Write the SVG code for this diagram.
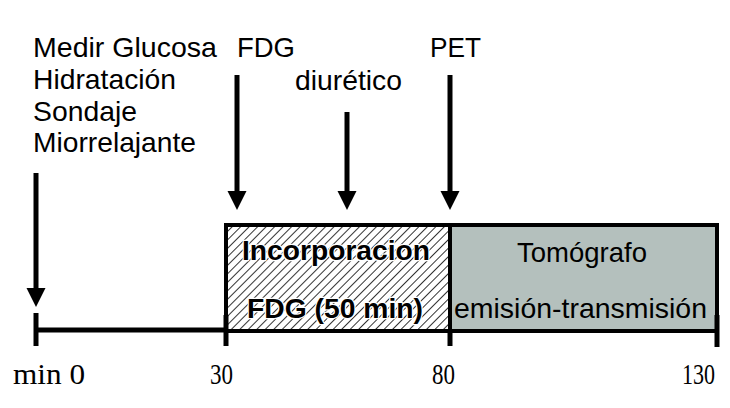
<svg xmlns="http://www.w3.org/2000/svg" width="730" height="408" viewBox="0 0 730 408">
<style>
.lbl{font-family:"Liberation Sans",Arial,sans-serif;font-size:28px;fill:#000}
.bold{font-family:"Liberation Sans",Arial,sans-serif;font-size:28px;font-weight:bold;fill:#000;stroke:#fff;stroke-width:2.5px;paint-order:stroke;stroke-linejoin:round}
.num{font-family:"Liberation Serif","Times New Roman",serif;font-size:29px;fill:#000}
.shaft{stroke:#000;stroke-width:5;fill:none}
.box{stroke:#000;stroke-width:4}
</style>
<defs>
<pattern id="hatch" patternUnits="userSpaceOnUse" width="6" height="6" patternTransform="rotate(45)">
<rect width="6" height="6" fill="#fff"/>
<line x1="0" y1="0" x2="0" y2="6" stroke="#000" stroke-width="1.6"/>
</pattern>
<marker id="ah" markerUnits="userSpaceOnUse" markerWidth="20" markerHeight="20" refX="1" refY="9.5" orient="auto">
<path d="M0,0 L19,9.5 L0,19 z" fill="#000"/>
</marker>
</defs>
<rect width="730" height="408" fill="#fff"/>
<g id="node-incorporacion">
<rect class="box" x="226" y="225" width="224" height="106" fill="url(#hatch)"/>
<text class="bold" x="242" y="260" textLength="188" lengthAdjust="spacingAndGlyphs">Incorporacion</text>
<text class="bold" x="247" y="318" textLength="176" lengthAdjust="spacingAndGlyphs">FDG (50 min)</text>
</g>
<g id="node-tomografo">
<rect class="box" x="450" y="225" width="267" height="106" fill="#b4c0bd"/>
<text class="lbl" x="517" y="262" textLength="130" lengthAdjust="spacingAndGlyphs">Tomógrafo</text>
<text class="lbl" x="454" y="318" textLength="253" lengthAdjust="spacingAndGlyphs">emisión-transmisión</text>
</g>
<g id="node-prep">
<text class="lbl" x="33" y="57" textLength="184" lengthAdjust="spacingAndGlyphs">Medir Glucosa</text>
<text class="lbl" x="33" y="89" textLength="143" lengthAdjust="spacingAndGlyphs">Hidratación</text>
<text class="lbl" x="33" y="121" textLength="104" lengthAdjust="spacingAndGlyphs">Sondaje</text>
<text class="lbl" x="33" y="152" textLength="163" lengthAdjust="spacingAndGlyphs">Miorrelajante</text>
</g>
<g id="node-fdg"><text class="lbl" x="237" y="57" textLength="58" lengthAdjust="spacingAndGlyphs">FDG</text></g>
<g id="node-diuretico"><text class="lbl" x="295" y="90" textLength="107" lengthAdjust="spacingAndGlyphs">diurético</text></g>
<g id="node-pet"><text class="lbl" x="430" y="57" textLength="51" lengthAdjust="spacingAndGlyphs">PET</text></g>
<g id="axis-labels">
<text class="num" x="13" y="384" textLength="72" lengthAdjust="spacingAndGlyphs">min 0</text>
<text class="num" x="210" y="384" textLength="23" lengthAdjust="spacingAndGlyphs">30</text>
<text class="num" x="432" y="384" textLength="23" lengthAdjust="spacingAndGlyphs">80</text>
<text class="num" x="682" y="384" textLength="33" lengthAdjust="spacingAndGlyphs">130</text>
</g>
<g id="connectors">
<line class="shaft" x1="36" y1="330" x2="226" y2="330"/>
<line class="shaft" x1="36" y1="313" x2="36" y2="346"/>
<line class="shaft" x1="226" y1="315" x2="226" y2="346"/>
<line class="shaft" x1="450" y1="331" x2="450" y2="346"/>
<line class="shaft" x1="717" y1="315" x2="717" y2="347"/>
<line class="shaft" x1="36" y1="173" x2="36" y2="289" marker-end="url(#ah)"/>
<line class="shaft" x1="237" y1="75" x2="237" y2="192" marker-end="url(#ah)"/>
<line class="shaft" x1="347" y1="112" x2="347" y2="192" marker-end="url(#ah)"/>
<line class="shaft" x1="450" y1="75" x2="450" y2="192" marker-end="url(#ah)"/>
</g>
</svg>
